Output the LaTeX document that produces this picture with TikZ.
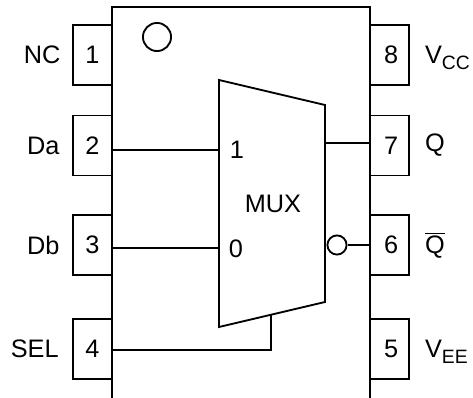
\documentclass[tikz,border=0pt]{standalone}
\usepackage{fontspec}
\usepackage{tikz}
\setmainfont{Liberation Sans}
\usetikzlibrary{positioning}
\newcommand{\pinsub}[1]{\raisebox{-3.6pt}{\fontsize{11}{12}\selectfont #1}}
\tikzset{
    pinbox/.style={rectangle,draw,line width=0.9pt,minimum width=22.2pt,minimum height=34pt,inner sep=0pt,font=\Large},
    pinname/.style={inner sep=0pt,font=\Large},
    wire/.style={line width=1.05pt},
}

\begin{document}
\begin{tikzpicture}[x=0.02cm,y=-0.02cm]
    \useasboundingbox (0,0) rectangle (473,398);

    % Pins
    \node[pinbox] (pin1) at (92.5,55) {1};
    \node[pinbox] (pin2) at (92.5,145.5) {2};
    \node[pinbox] (pin3) at (92.5,245) {3};
    \node[pinbox] (pin4) at (92.5,349) {4};
    \node[pinbox] (pin8) at (389.5,55) {\hspace{2pt}8};
    \node[pinbox] (pin7) at (389.5,145.5) {\hspace{2pt}7};
    \node[pinbox] (pin6) at (389.5,245) {\hspace{2pt}6};
    \node[pinbox] (pin5) at (389.5,349) {\hspace{2pt}5};

    % Pin names
    \node[pinname,left=6.5pt of pin1] (nc) {NC};
    \node[pinname,left=7pt of pin2] (da) {Da};
    \node[pinname,left=7pt of pin3] (db) {Db};
    \node[pinname,left=7.5pt of pin4] (sel) {SEL};
    \node[pinname,anchor=base west] (vcc) at ([xshift=8.5pt,yshift=-4.6pt]pin8.east) {V\pinsub{CC}};
    \node[pinname,right=8.5pt of pin7] (q) {Q};
    \node[pinname,right=8.5pt of pin6] (qn) {$\overline{\mbox{Q}}$};
    \node[pinname,anchor=base west] (vee) at ([xshift=8.5pt,yshift=-4.6pt]pin5.east) {V\pinsub{EE}};

    % Package
    \draw[wire] (112,398) -- (112,7) -- (370,7) -- (370,398);
    \node[circle,draw,line width=1.05pt,minimum size=16pt,inner sep=0pt] (dot) at (157,37) {};

    % MUX
    \coordinate (muxa) at (219,80);
    \coordinate (muxb) at (325,105);
    \coordinate (muxc) at (325,302);
    \coordinate (muxd) at (219,327);
    \draw[wire] (muxa) -- (muxb) -- (muxc) -- (muxd) -- cycle;
    \node[font=\Large,inner sep=0pt] (mux) at (273,204) {MUX};
    \node[font=\Large,inner sep=0pt] (one) at (237,150) {1};
    \node[font=\Large,inner sep=0pt] (zero) at (236,249) {0};

    % Wires
    \coordinate (ina) at (219,150);
    \coordinate (inb) at (219,248);
    \coordinate (sela) at (271,350);
    \coordinate (selb) at (271,314.5);
    \coordinate (outq) at (325,143);
    \node[circle,draw,line width=1.05pt,minimum size=10.9pt,inner sep=0pt] (bubble) at (337,245) {};
    \draw[wire] (pin2.east |- ina) -- (ina);
    \draw[wire] (pin3.east |- inb) -- (inb);
    \draw[wire] (pin4.east |- sela) -- (sela) -- (selb);
    \draw[wire] (outq) -- (pin7.west |- outq);
    \draw[wire] (bubble) -- (pin6.west);
\end{tikzpicture}
\end{document}
